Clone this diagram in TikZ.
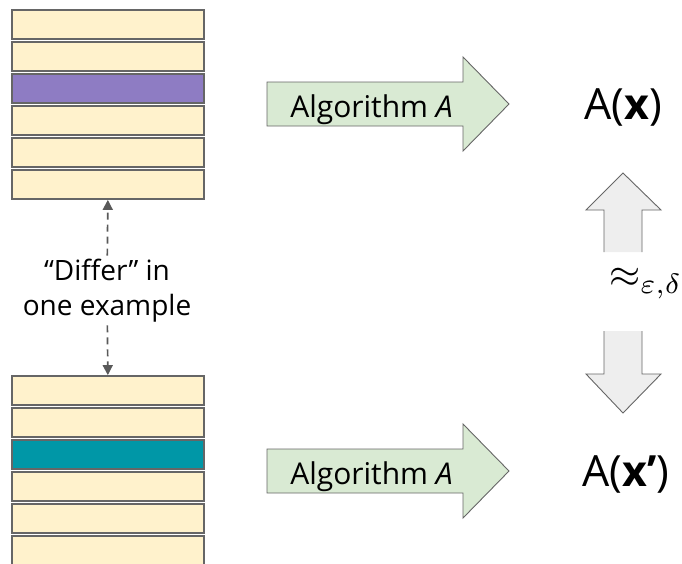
\documentclass[tikz,border=0pt]{standalone}
\usepackage{graphicx}
\usepackage{fontspec}
\setmainfont{Open Sans}
\usetikzlibrary{arrows.meta}
\definecolor{cream}{HTML}{FFF2CC}
\definecolor{purp}{HTML}{8E7CC3}
\definecolor{teal}{HTML}{0097A7}
\definecolor{edge}{HTML}{666666}
\definecolor{dashcol}{HTML}{595959}
\definecolor{greenfill}{HTML}{D9EAD3}
\definecolor{grayfill}{HTML}{EEEEEE}
\tikzset{
  rowbox/.style={draw=edge, line width=1.8pt, minimum width=192pt, minimum height=29pt, inner sep=0pt},
  dasharrow/.style={draw=dashcol, line width=1.7pt, dash pattern=on 7pt off 5pt, -{Triangle[length=10pt,width=10pt]}},
  greenarrow/.style={draw=edge, fill=greenfill, line width=0.9pt, line join=miter},
  grayfillst/.style={fill=grayfill},
  graystroke/.style={draw=edge, line width=0.9pt, line join=miter},
  lbl/.style={font=\fontsize{28}{35}\selectfont, align=center, inner sep=3pt},
  algtext/.style={font=\fontsize{30}{36}\selectfont, anchor=base, inner sep=0pt},
  outtext/.style={font=\fontsize{43}{50}\selectfont, anchor=base, inner sep=0pt}
}
\begin{document}
\begin{tikzpicture}[x=1pt, y=-1pt]
\useasboundingbox (0,0) rectangle (682,563);
\clip (0,0) rectangle (682,563);
% top stack
\foreach \i/\c in {1/cream,2/cream,3/purp,4/cream,5/cream,6/cream}
  \node[rowbox, fill=\c] (t\i) at (108, {24.5+32*(\i-1)}) {};
% bottom stack
\foreach \i/\c in {1/cream,2/cream,3/teal,4/cream,5/cream,6/cream}
  \node[rowbox, fill=\c] (b\i) at (108, {390.5+32*(\i-1)}) {};
% label and dashed arrows
\node[lbl] (diff) at (107, 290.5) {“Differ” in\\one example};
\draw[dasharrow] (diff) -- (t6);
\draw[dasharrow] (diff) -- (b1);
% green block arrows
\draw[greenarrow] (267,82) -- (463,82) -- (463,57) -- (509,104) -- (463,151) -- (463,126) -- (267,126) -- cycle;
\node[algtext] (alg1) at (371.5,117) {Algorithm \textit{A}};
\draw[greenarrow] (267,449) -- (463,449) -- (463,424) -- (509,471) -- (463,518) -- (463,493) -- (267,493) -- cycle;
\node[algtext] (alg2) at (371.5,484) {Algorithm \textit{A}};
% outputs
\node[outtext] (ax) at (623,119) {A(\textbf{x})};
\node[outtext] (axp) at (626,486) {A(\textbf{x’})};
% gray arrows
\fill[grayfillst] (604,252) -- (604,210) -- (586,210) -- (623,173) -- (661,210) -- (642,210) -- (642,252) -- cycle;
\draw[graystroke] (604,252) -- (604,210) -- (586,210) -- (623,173) -- (661,210) -- (642,210) -- (642,252);
\fill[grayfillst] (604,331) -- (604,374) -- (586,374) -- (623,413) -- (661,374) -- (642,374) -- (642,331) -- cycle;
\draw[graystroke] (604,331) -- (604,374) -- (586,374) -- (623,413) -- (661,374) -- (642,374) -- (642,331);
\node[anchor=base west, inner sep=0pt] (approx) at (609,287) {\scalebox{4}{$\approx_{\varepsilon,\delta}$}};
\end{tikzpicture}
\end{document}
